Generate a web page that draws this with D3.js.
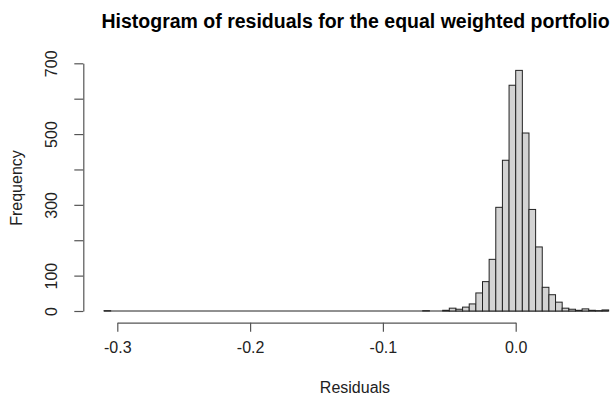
<!DOCTYPE html>
<html lang="en">
<head>
    <meta charset="UTF-8">
    <script src="https://d3js.org/d3.v7.min.js"></script>
    <title>Histogram of residuals</title>
    <style>
        body { margin: 0; background: #fff; }
        text { font-family: "Liberation Sans", Arial, sans-serif; fill: #222; }
        .bar { fill: #d3d3d3; stroke: #222; stroke-width: 1; }
        .baseline { stroke: #222; stroke-width: 1; }
        .axis path, .axis line { stroke: #555; stroke-width: 1.2; }
    </style>
</head>
<body>
    <div id="container"></div>
<script>
    // histogram: bins of width 0.005 starting at -0.31
    var binStart = -0.31,
        binWidth = 0.005;
    var counts = [
        1, 0, 0, 0, 0, 0, 0, 0, 0, 0,
        0, 0, 0, 0, 0, 0, 0, 0, 0, 0,
        0, 0, 0, 0, 0, 0, 0, 0, 0, 0,
        0, 0, 0, 0, 0, 0, 0, 0, 0, 0,
        0, 0, 0, 0, 0, 0, 0, 0, 1, 0,
        0, 2, 8, 5, 11, 20, 51, 83, 146, 293,
        426, 638, 680, 503, 287, 181, 67, 46, 25, 8,
        5, 2, 6, 2, 1, 3
    ];
    var xTicks = [-0.3, -0.2, -0.1, 0.0];
    var yTicks = [0, 100, 200, 300, 400, 500, 600, 700];
    var yLabels = [0, 100, 300, 500, 700];

    var bins = counts.map(function(c, i){
        var x0 = binStart + i * binWidth;
        return {x0: x0, x1: x0 + binWidth, n: c};
    });

    var svg_width = 613,
        svg_height = 398;

    var svg = d3.select("#container")
                .append("svg")
                .attr("width", svg_width)
                .attr("height", svg_height);

    // scales (pixel positions)
    var scale_x = d3.scaleLinear()
                    .domain([-0.3, 0])
                    .range([117.3, 515.7]);
    var scale_y = d3.scaleLinear()
                    .domain([0, 700])
                    .range([311, 63.3]);

    // empty bins still show as a flat line, like R does
    svg.append("line")
        .attr("class", "baseline")
        .attr("x1", scale_x(bins[0].x0))
        .attr("x2", scale_x(bins[bins.length - 1].x1))
        .attr("y1", scale_y(0))
        .attr("y2", scale_y(0));

    // bars
    svg.append("g").selectAll("rect")
        .data(bins.filter(function(d){ return d.n > 0; }))
        .enter().append("rect")
        .attr("class", "bar")
        .attr("x", function(d){ return scale_x(d.x0); })
        .attr("width", function(d){ return scale_x(d.x1) - scale_x(d.x0); })
        .attr("y", function(d){ return scale_y(d.n); })
        .attr("height", function(d){ return scale_y(0) - scale_y(d.n); });

    // x axis, offset below the bars
    var x_axis = d3.axisBottom(scale_x)
                    .tickValues(xTicks)
                    .tickSize(9)
                    .tickSizeOuter(0)
                    .tickPadding(10)
                    .tickFormat(function(d){ return d3.format(".1f")(d).replace("−", "-"); });
    var gx = svg.append("g")
        .attr("class", "axis")
        .attr("transform", "translate(0,322.7)")
        .call(x_axis);
    gx.selectAll("text").style("font-size", "16px").attr("fill", "#222");

    // y axis
    var y_axis = d3.axisLeft(scale_y)
                    .tickValues(yTicks)
                    .tickSize(9)
                    .tickSizeOuter(0)
                    .tickFormat(function(d){ return yLabels.indexOf(d) >= 0 ? d : ""; });
    var gy = svg.append("g")
        .attr("class", "axis")
        .attr("transform", "translate(83.3,0)")
        .call(y_axis);
    gy.selectAll("text")
        .style("font-size", "16px")
        .attr("fill", "#222")
        .attr("text-anchor", "middle")
        .attr("dy", null)
        .attr("x", null)
        .attr("transform", "translate(-26,0) rotate(-90)");

    // titles
    svg.append("text")
        .attr("x", 101.5)
        .attr("y", 28)
        .style("font-size", "19.5px")
        .style("font-weight", "bold")
        .style("fill", "#000")
        .text("Histogram of residuals for the equal weighted portfolio");

    svg.append("text")
        .attr("x", 355)
        .attr("y", 393)
        .attr("text-anchor", "middle")
        .style("font-size", "16px")
        .text("Residuals");

    svg.append("text")
        .attr("transform", "translate(22,188) rotate(-90)")
        .attr("text-anchor", "middle")
        .style("font-size", "16px")
        .text("Frequency");
</script>
</body>
</html>
